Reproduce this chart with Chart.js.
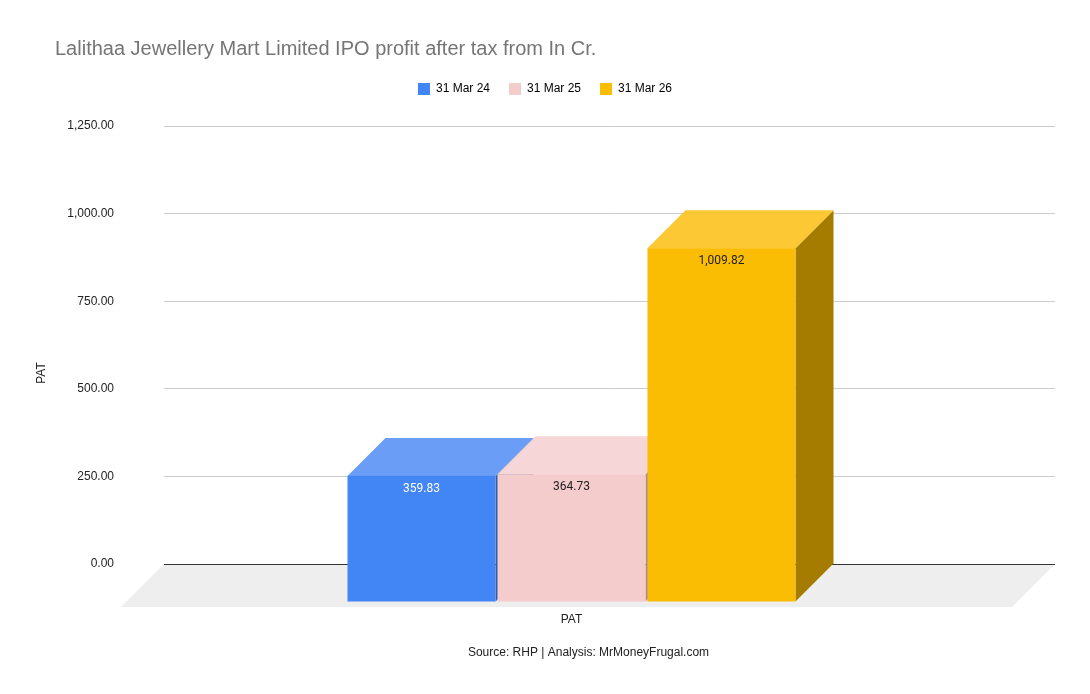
<!DOCTYPE html>
<html>
<head>
<meta charset="utf-8">
<title>Lalithaa Jewellery Mart Limited IPO PAT</title>
<script src="https://cdn.jsdelivr.net/npm/chart.js@4.4.1/dist/chart.umd.min.js"></script>
<style>
  html, body { margin: 0; padding: 0; background: #fff; }
  #wrap { width: 1090px; height: 694px; }
</style>
</head>
<body>
<div id="wrap"><canvas id="patChart" width="1090" height="694"></canvas></div>
<script>
// chart data
const categories = ['PAT'];
const seriesNames = ['31 Mar 24', '31 Mar 25', '31 Mar 26'];
const seriesValues = [[359.83], [364.73], [1009.82]];
const yTicks = [0, 250, 500, 750, 1000, 1250];

// face colours per series: front, top, side
const frontColors = ['#4285F4', '#F4CCCC', '#FBBC04'];
const topColors = ['#699DF6', '#F6D6D6', '#FCC934'];
const sideColors = ['#2E5DAB', '#A98E8E', '#A67C00'];
const labelColors = ['#FFFFFF', '#222222', '#222222'];

const DEPTH = 38;       // bar depth offset
const FLOOR_DEPTH = 43; // floor depth offset
const FONT = '"Liberation Sans", Arial, sans-serif';
const TITLE = 'Lalithaa Jewellery Mart Limited IPO profit after tax from In Cr.';

function fmt(v){
  return v.toLocaleString('en-US', { minimumFractionDigits: 2, maximumFractionDigits: 2 });
}

// draws floor, 3d boxes, labels
const threeD = {
  id: 'threeD',
  beforeInit(chart){
    // leave room between legend and plot
    const legend = chart.legend;
    if (legend && !legend.__patched) {
      legend.__patched = true;
      const fit = legend.fit;
      legend.fit = function(){ fit.call(this); this.height += 21; };
    }
  },
  beforeDatasetsDraw(chart){
    const { ctx, chartArea } = chart;
    const y0 = chart.scales.y.getPixelForValue(0);
    ctx.save();
    ctx.fillStyle = '#EEEEEE';
    ctx.beginPath();
    ctx.moveTo(chartArea.left, y0);
    ctx.lineTo(chartArea.right, y0);
    ctx.lineTo(chartArea.right - FLOOR_DEPTH, y0 + FLOOR_DEPTH);
    ctx.lineTo(chartArea.left - FLOOR_DEPTH, y0 + FLOOR_DEPTH);
    ctx.closePath();
    ctx.fill();
    // zero line on the back edge of the floor
    ctx.strokeStyle = '#333333';
    ctx.lineWidth = 1;
    ctx.beginPath();
    ctx.moveTo(chartArea.left, Math.round(y0) + 0.5);
    ctx.lineTo(chartArea.right, Math.round(y0) + 0.5);
    ctx.stroke();
    ctx.restore();
  },
  afterDatasetsDraw(chart){
    const { ctx, chartArea } = chart;
    const d = DEPTH;
    ctx.save();
    chart.data.datasets.forEach((ds, i) => {
      const meta = chart.getDatasetMeta(i);
      meta.data.forEach((bar, j) => {
        const p = bar.getProps(['x', 'y', 'base', 'width'], true);
        const l = p.x - p.width / 2, r = p.x + p.width / 2;
        // side
        ctx.fillStyle = sideColors[i];
        ctx.beginPath();
        ctx.moveTo(r - d, p.y + d);
        ctx.lineTo(r, p.y);
        ctx.lineTo(r, p.base);
        ctx.lineTo(r - d, p.base + d);
        ctx.closePath();
        ctx.fill();
        // top
        ctx.fillStyle = topColors[i];
        ctx.beginPath();
        ctx.moveTo(l - d, p.y + d);
        ctx.lineTo(l, p.y);
        ctx.lineTo(r, p.y);
        ctx.lineTo(r - d, p.y + d);
        ctx.closePath();
        ctx.fill();
        // front
        ctx.fillStyle = frontColors[i];
        ctx.fillRect(l - d, p.y + d, p.width, p.base - p.y);
        // value label
        ctx.fillStyle = labelColors[i];
        ctx.font = '12px Roboto, ' + FONT;
        ctx.textAlign = 'center';
        ctx.textBaseline = 'middle';
        ctx.fillText(fmt(ds.data[j]), p.x - d, p.y + d + 13);
      });
    });

    const y0 = chart.scales.y.getPixelForValue(0);
    ctx.fillStyle = '#222222';
    ctx.font = '12px ' + FONT;
    ctx.textAlign = 'center';
    ctx.textBaseline = 'middle';
    // category label
    categories.forEach((c, k) => {
      ctx.fillText(c, chart.scales.x.getPixelForValue(k) - d, y0 + FLOOR_DEPTH + 13);
    });
    // footer
    ctx.fillText('Source: RHP | Analysis: MrMoneyFrugal.com',
      (chartArea.left + chartArea.right) / 2 - 21, y0 + 89);
    // chart title
    ctx.fillStyle = '#757575';
    ctx.font = '20px ' + FONT;
    ctx.textAlign = 'left';
    ctx.textBaseline = 'alphabetic';
    ctx.fillText(TITLE, 55, 55);
    // y axis title
    ctx.fillStyle = '#222222';
    ctx.font = '12px ' + FONT;
    ctx.textAlign = 'center';
    ctx.textBaseline = 'middle';
    ctx.translate(chartArea.left - 122, (chartArea.top + chartArea.bottom) / 2 + 28);
    ctx.rotate(-Math.PI / 2);
    ctx.fillText('PAT', 0, 0);
    ctx.restore();
  }
};

const datasets = seriesNames.map((name, i) => ({
  label: name,
  data: seriesValues[i],
  backgroundColor: 'rgba(0,0,0,0)',
  borderWidth: 0,
  categoryPercentage: 0.505,
  barPercentage: 0.987
}));

const chart = new Chart(document.getElementById('patChart'), {
  type: 'bar',
  data: { labels: categories, datasets },
  plugins: [threeD],
  options: {
    responsive: false,
    animation: false,
    devicePixelRatio: 1,
    layout: { padding: { left: 35, right: 35, top: 64, bottom: 130 } },
    plugins: {
      title: { display: false },
      legend: {
        display: true,
        position: 'top',
        labels: {
          color: '#222222',
          font: { family: FONT, size: 12 },
          boxWidth: 12,
          boxHeight: 12,
          padding: 19,
          generateLabels: (chart) => chart.data.datasets.map((ds, i) => ({
            text: ds.label,
            fillStyle: frontColors[i],
            strokeStyle: frontColors[i],
            lineWidth: 0,
            datasetIndex: i
          }))
        }
      },
      tooltip: { enabled: false }
    },
    scales: {
      x: {
        display: false
      },
      y: {
        min: yTicks[0],
        max: yTicks[yTicks.length - 1],
        afterBuildTicks: (scale) => { scale.ticks = yTicks.map(v => ({ value: v })); },
        afterFit: (scale) => { scale.width = 129; },
        grid: {
          color: (c) => c.tick && c.tick.value === 0 ? 'rgba(0,0,0,0)' : '#CCCCCC',
          drawTicks: false,
          lineWidth: 1
        },
        border: { display: false },
        ticks: {
          padding: 50,
          color: '#222222',
          font: { family: FONT, size: 12 },
          callback: (v) => fmt(v)
        }
      }
    }
  }
});
</script>
</body>
</html>
